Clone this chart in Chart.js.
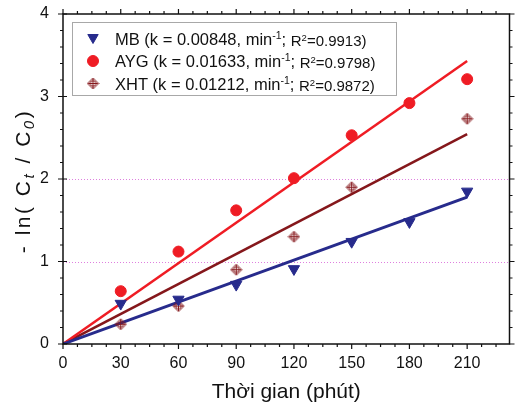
<!DOCTYPE html>
<html>
<head>
<meta charset="utf-8">
<script src="https://cdn.jsdelivr.net/npm/chart.js@4/dist/chart.umd.min.js"></script>
<style>
  html, body { margin: 0; padding: 0; background: #fff; }
  #wrap { width: 517px; height: 405px; }
</style>
</head>
<body>
<div id="wrap"><canvas id="myChart" width="517" height="405"></canvas></div>
<script>
// reaction time (min) and -ln(Ct/C0) for each dye
var times = [30, 60, 90, 120, 150, 180, 210];
var mbValues = [0.49, 0.54, 0.72, 0.91, 1.24, 1.48, 1.85];
var aygValues = [0.64, 1.12, 1.62, 2.01, 2.53, 2.92, 3.21];
var xhtValues = [0.24, 0.46, 0.90, 1.30, 1.90, null, 2.73];

// pseudo first order fits: -ln(Ct/C0) = k * t
var seriesNames = ['MB', 'AYG', 'XHT'];
var rateK = ['0.00848', '0.01633', '0.01212'];
var rSquared = ['0.9913', '0.9798', '0.9872'];
var fitEnd = 210;

var xTicks = [0, 30, 60, 90, 120, 150, 180, 210];
var yTicks = [0, 1, 2, 3, 4];
var gridAt = [1, 2];

var FONT = '"Liberation Sans", Arial, sans-serif';
var navy = '#272b8c';
var red = '#ef1c24';
var brown = '#85171b';

function makeCrossDiamond(color) {
  var c = document.createElement('canvas');
  c.width = 13; c.height = 13;
  var g = c.getContext('2d');
  g.strokeStyle = color;
  g.lineWidth = 1;
  g.beginPath();
  g.moveTo(6.5, 1); g.lineTo(12, 6.5); g.lineTo(6.5, 12); g.lineTo(1, 6.5);
  g.closePath();
  g.stroke();
  g.beginPath();
  g.arc(6.5, 6.5, 2.8, 0, Math.PI * 2);
  g.stroke();
  g.beginPath();
  g.moveTo(6.5, 1.5); g.lineTo(6.5, 11.5);
  g.moveTo(1.5, 6.5); g.lineTo(11.5, 6.5);
  g.stroke();
  return c;
}
var xhtMarker = makeCrossDiamond(brown);

function toPoints(vals) {
  var out = [];
  for (var i = 0; i < times.length; i++) {
    if (vals[i] !== null) out.push({ x: times[i], y: vals[i] });
  }
  return out;
}
function fitLine(k) {
  return [{ x: 0, y: 0 }, { x: fitEnd, y: parseFloat(k) * fitEnd }];
}

// frame, minor ticks, dotted guides, y title and the legend box
var framePlugin = {
  id: 'frame',
  beforeDatasetsDraw: function (chart) {
    var ctx = chart.ctx, a = chart.chartArea, ys = chart.scales.y;
    ctx.save();
    ctx.strokeStyle = '#df7fdf';
    ctx.lineWidth = 1;
    ctx.setLineDash([1, 2]);
    gridAt.forEach(function (v) {
      var py = Math.round(ys.getPixelForValue(v)) + 0.5;
      ctx.beginPath();
      ctx.moveTo(a.left, py);
      ctx.lineTo(a.right, py);
      ctx.stroke();
    });
    ctx.restore();
  },
  afterDraw: function (chart) {
    var ctx = chart.ctx, a = chart.chartArea;
    var xs = chart.scales.x, ys = chart.scales.y;
    ctx.save();
    ctx.strokeStyle = '#111';
    ctx.lineWidth = 1.5;
    ctx.strokeRect(a.left, a.top, a.right - a.left, a.bottom - a.top);

    ctx.lineWidth = 1.2;
    ctx.beginPath();
    for (var t = 0; t <= xs.max; t += 7.5) {
      var px = xs.getPixelForValue(t);
      var len = (t % 30 === 0) ? 5 : 3;
      ctx.moveTo(px, a.bottom); ctx.lineTo(px, a.bottom + len);
      ctx.moveTo(px, a.top); ctx.lineTo(px, a.top - len);
    }
    for (var v = 0; v <= 4.001; v += 0.2) {
      var py = ys.getPixelForValue(v);
      var major = Math.abs(v - Math.round(v)) < 0.01;
      var l2 = major ? 5 : 3;
      ctx.moveTo(a.left, py); ctx.lineTo(a.left - l2, py);
      if (major) { ctx.moveTo(a.left, py); ctx.lineTo(a.left + 4, py); }
      ctx.moveTo(a.right, py); ctx.lineTo(a.right + l2, py);
    }
    ctx.stroke();

    // y axis title: - ln( Ct / C0 )
    var parts = [
      { s: '- ln( C', f: '21px ' + FONT, dy: 0 },
      { s: 't', f: 'italic 15px ' + FONT, dy: 4 },
      { s: ' / C', f: '21px ' + FONT, dy: 0 },
      { s: '0', f: 'italic 15px ' + FONT, dy: 4 },
      { s: ')', f: '21px ' + FONT, dy: 0 }
    ];
    ctx.letterSpacing = '2.5px';
    var total = 0;
    parts.forEach(function (p) { ctx.font = p.f; p.w = ctx.measureText(p.s).width; total += p.w; });
    ctx.translate(30, 181);
    ctx.rotate(-Math.PI / 2);
    ctx.fillStyle = '#111';
    ctx.textBaseline = 'alphabetic';
    var cx = -total / 2;
    parts.forEach(function (p) { ctx.font = p.f; ctx.fillText(p.s, cx, p.dy); cx += p.w; });
    ctx.restore();

    // legend
    ctx.save();
    ctx.fillStyle = '#fff';
    ctx.fillRect(72, 22, 324, 73);
    ctx.strokeStyle = '#a8a8a8';
    ctx.lineWidth = 1;
    ctx.strokeRect(72.5, 22.5, 324, 73);
    var rows = [38.5, 61, 83.5];
    var styles = [
      { style: 'triangle', rot: 180, r: 6, color: navy },
      { style: 'circle', rot: 0, r: 5.5, color: red },
      { style: xhtMarker, rot: 0, r: 6, color: brown }
    ];
    for (var i = 0; i < 3; i++) {
      var y = rows[i];
      ctx.fillStyle = styles[i].color;
      ctx.strokeStyle = styles[i].color;
      ctx.lineWidth = 1;
      Chart.helpers.drawPoint(ctx, { pointStyle: styles[i].style, rotation: styles[i].rot, radius: styles[i].r, borderWidth: 1 }, 93, y + (i === 0 ? -1 : 0));
      var segs = [
        { s: seriesNames[i] + ' (k = ' + rateK[i] + ', min', f: '16.5px ' + FONT, dy: 0 },
        { s: '-1', f: '10.5px ' + FONT, dy: -6 },
        { s: '; ', f: '16.5px ' + FONT, dy: 0 },
        { s: 'R', f: '15px ' + FONT, dy: 1 },
        { s: '2', f: '9.5px ' + FONT, dy: -4 },
        { s: '=' + rSquared[i] + ')', f: '15px ' + FONT, dy: 1 }
      ];
      var x = 115;
      ctx.fillStyle = '#111';
      ctx.textBaseline = 'alphabetic';
      segs.forEach(function (sg) {
        ctx.font = sg.f;
        ctx.fillText(sg.s, x, y + 6 + sg.dy);
        x += ctx.measureText(sg.s).width;
      });
    }
    ctx.restore();
  }
};

var ctx = document.getElementById('myChart');
var myChart = new Chart(ctx, {
  type: 'scatter',
  data: {
    datasets: [
      { label: 'MB', data: toPoints(mbValues), pointStyle: 'triangle', rotation: 180, pointRadius: 6.5,
        backgroundColor: navy, borderColor: navy, borderWidth: 1 },
      { label: 'AYG', data: toPoints(aygValues), pointStyle: 'circle', pointRadius: 5.5,
        backgroundColor: red, borderColor: red, borderWidth: 1 },
      { label: 'XHT', data: toPoints(xhtValues), pointStyle: xhtMarker, pointRadius: 6,
        backgroundColor: brown, borderColor: brown },
      { label: 'MB fit', data: fitLine(rateK[0]), showLine: true, pointRadius: 0, borderColor: navy, borderWidth: 3 },
      { label: 'AYG fit', data: fitLine(rateK[1]), showLine: true, pointRadius: 0, borderColor: red, borderWidth: 2.5 },
      { label: 'XHT fit', data: fitLine(rateK[2]), showLine: true, pointRadius: 0, borderColor: brown, borderWidth: 2.5 }
    ]
  },
  options: {
    responsive: false,
    animation: false,
    layout: { padding: { top: 14, right: 3, left: 0, bottom: 0 } },
    plugins: {
      legend: { display: false },
      tooltip: { enabled: false }
    },
    scales: {
      x: {
        type: 'linear',
        min: 0,
        max: 232,
        afterFit: function (s) { s.height = 61; s.paddingLeft = 0; s.paddingRight = 0; },
        afterBuildTicks: function (s) { s.ticks = xTicks.map(function (v) { return { value: v }; }); },
        ticks: { padding: 10, color: '#111', maxRotation: 0, font: { family: FONT, size: 16 } },
        grid: { display: false, drawTicks: false },
        border: { display: false },
        title: { display: true, text: 'Thời gian (phút)', color: '#111', padding: 0, font: { family: FONT, size: 21 } }
      },
      y: {
        min: 0,
        max: 4,
        afterFit: function (s) { s.width = 63; s.paddingTop = 0; s.paddingBottom = 0; },
        afterBuildTicks: function (s) { s.ticks = yTicks.map(function (v) { return { value: v }; }); },
        ticks: { padding: 14, color: '#111', font: { family: FONT, size: 16 } },
        grid: { display: false, drawTicks: false },
        border: { display: false }
      }
    }
  },
  plugins: [framePlugin]
});
</script>
</body>
</html>
